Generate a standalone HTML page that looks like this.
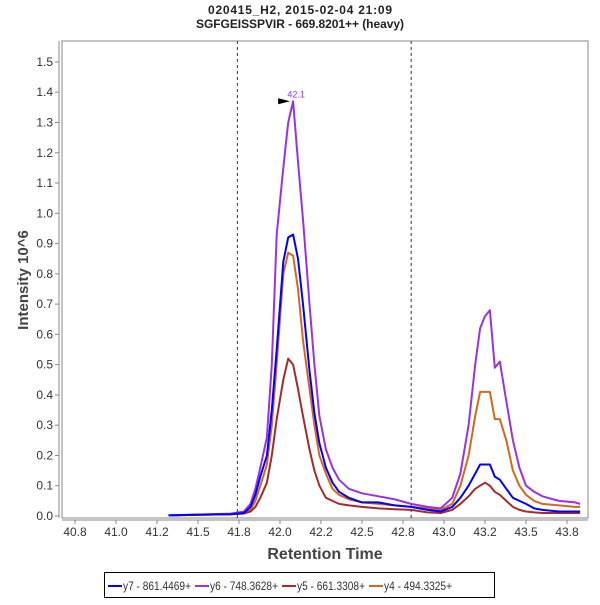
<!DOCTYPE html>
<html><head><meta charset="utf-8"><style>
body{margin:0;background:#fff;font-family:"Liberation Sans",sans-serif}
svg text{font-family:"Liberation Sans",sans-serif}
</style></head><body>
<svg id="c" width="600" height="600" xmlns="http://www.w3.org/2000/svg">
<rect width="600" height="600" fill="#fff"/>
<text x="300" y="14" text-anchor="middle" font-size="12" font-weight="bold" fill="#222" textLength="184">020415_H2, 2015-02-04 21:09</text>
<text x="300" y="28" text-anchor="middle" font-size="12" font-weight="bold" fill="#222" textLength="208">SGFGEISSPVIR - 669.8201++ (heavy)</text>
<rect x="62" y="41" width="526" height="477" fill="none" stroke="#888" stroke-width="1"/>
<line x1="59" y1="41" x2="59" y2="518" stroke="#888"/>
<line x1="62" y1="520" x2="588" y2="520" stroke="#888"/>
<g id="yt"></g><g id="xt"></g><g id="series"></g>
<text transform="translate(28,280) rotate(-90)" text-anchor="middle" font-size="15" font-weight="bold" fill="#444">Intensity 10^6</text>
<text x="325" y="559" text-anchor="middle" font-size="16" font-weight="bold" fill="#444">Retention Time</text>
<g>
<rect x="104.5" y="572.5" width="390" height="25" fill="#fff" stroke="#000"/>
<line x1="108" y1="586" x2="122" y2="586" stroke="#0000ff" stroke-width="2"/>
<text x="123" y="590" font-size="12" fill="#333" textLength="68" lengthAdjust="spacingAndGlyphs">y7 - 861.4469+</text>
<line x1="195" y1="586" x2="209" y2="586" stroke="#9932e6" stroke-width="2"/>
<text x="210" y="590" font-size="12" fill="#333" textLength="68" lengthAdjust="spacingAndGlyphs">y6 - 748.3628+</text>
<line x1="282" y1="586" x2="296" y2="586" stroke="#a52a2a" stroke-width="2"/>
<text x="297" y="590" font-size="12" fill="#333" textLength="68" lengthAdjust="spacingAndGlyphs">y5 - 661.3308+</text>
<line x1="369" y1="586" x2="383" y2="586" stroke="#d2691e" stroke-width="2"/>
<text x="384" y="590" font-size="12" fill="#333" textLength="68" lengthAdjust="spacingAndGlyphs">y4 - 494.3325+</text>
</g>
</svg>
<script>
const times=[41.32,41.5,41.7,41.78,41.82,41.85,41.88,41.92,41.95,41.98,42.02,42.05,42.08,42.11,42.14,42.18,42.21,42.24,42.28,42.32,42.36,42.42,42.5,42.6,42.7,42.8,42.9,42.98,43.05,43.1,43.15,43.19,43.22,43.25,43.28,43.31,43.34,43.38,43.42,43.46,43.5,43.55,43.6,43.7,43.8,43.83];
const y7=[0.002,0.004,0.006,0.01,0.03,0.07,0.13,0.2,0.35,0.55,0.84,0.92,0.93,0.85,0.7,0.48,0.34,0.24,0.16,0.11,0.08,0.06,0.045,0.045,0.035,0.03,0.02,0.015,0.03,0.06,0.1,0.14,0.17,0.17,0.17,0.13,0.12,0.09,0.06,0.05,0.04,0.025,0.02,0.015,0.015,0.015];
const y6=[0.002,0.005,0.008,0.015,0.04,0.09,0.16,0.26,0.5,0.93,1.15,1.30,1.37,1.17,0.98,0.7,0.5,0.33,0.22,0.16,0.12,0.09,0.075,0.065,0.055,0.04,0.03,0.025,0.06,0.14,0.3,0.5,0.62,0.66,0.68,0.49,0.51,0.38,0.25,0.16,0.1,0.08,0.065,0.05,0.045,0.04];
const y5=[0.002,0.004,0.006,0.008,0.015,0.03,0.06,0.11,0.2,0.32,0.45,0.52,0.5,0.42,0.33,0.22,0.15,0.1,0.06,0.05,0.04,0.035,0.03,0.025,0.022,0.02,0.012,0.01,0.02,0.04,0.065,0.09,0.1,0.11,0.1,0.08,0.07,0.05,0.03,0.02,0.015,0.012,0.01,0.01,0.01,0.01];
const y4=[0.002,0.004,0.006,0.01,0.02,0.05,0.1,0.17,0.3,0.5,0.8,0.87,0.86,0.75,0.58,0.42,0.3,0.2,0.14,0.09,0.07,0.055,0.045,0.04,0.035,0.03,0.025,0.02,0.04,0.1,0.2,0.33,0.41,0.41,0.41,0.32,0.32,0.25,0.15,0.1,0.07,0.05,0.04,0.035,0.03,0.03];
const xTicks=[40.75,41,41.25,41.5,41.75,42,42.25,42.5,42.75,43,43.25,43.5,43.75];
const xTickLabels=["40.8","41.0","41.2","41.5","41.8","42.0","42.2","42.5","42.8","43.0","43.2","43.5","43.8"];
const yTicks=[0,0.1,0.2,0.3,0.4,0.5,0.6,0.7,0.8,0.9,1.0,1.1,1.2,1.3,1.4,1.5];
const boundaries=[41.74,42.8];
const peakTime=42.08, peakValue=1.37, peakLabel="42.1";
const NS="http://www.w3.org/2000/svg";
const X=t=>116+(t-41)*164;
const Y=v=>516-v*302.7;
function mk(tag,attrs,parent){const e=document.createElementNS(NS,tag);for(const k in attrs)e.setAttribute(k,attrs[k]);parent.appendChild(e);return e;}
const yt=document.getElementById('yt'),xt=document.getElementById('xt'),sg=document.getElementById('series');
yTicks.forEach(v=>{
 const l=mk('line',{x1:55,x2:59,y1:Y(v),y2:Y(v),stroke:'#888'},yt);
 
 
 const t=mk('text',{x:53,y:Y(v)+4,'text-anchor':'end','font-size':12,fill:'#333'},yt);
 t.textContent=v.toFixed(1);
 
 
});
xTicks.forEach((v,i)=>{
 const l=mk('line',{x1:X(v),x2:X(v),y1:520,y2:524,stroke:'#888'},xt);
 
 
 const t=mk('text',{x:X(v),y:536,'text-anchor':'middle','font-size':12,fill:'#333'},xt);
 t.textContent=xTickLabels[i];
 
 
});
boundaries.forEach(b=>{
 const l=mk('line',{x1:X(b),x2:X(b),y1:41,y2:518,stroke:'#333','stroke-dasharray':'3,3'},sg);
 
 
});
const series=[['y4',y4,'#d2691e'],['y5',y5,'#a52a2a'],['y6',y6,'#9932e6'],['y7',y7,'#0000ff']];
series.forEach(([n,arr,c])=>{
 const d=arr.map((v,i)=>(i?'L':'M')+X(times[i]).toFixed(1)+','+Y(v).toFixed(1)).join('');
 const p=mk('path',{d:d,fill:'none',stroke:c,'stroke-width':2,'stroke-linejoin':'round'},sg);
 
 
});
const px=X(peakTime),py=Y(peakValue);
const a=mk('polygon',{points:(px-15)+','+(py-3)+' '+(px-3)+','+py+' '+(px-15)+','+(py+3),fill:'#000'},sg);


const pl=mk('text',{x:px+3,y:py-4,'font-size':9,fill:'#9932e6','text-anchor':'middle'},sg);
pl.textContent=peakLabel;


</script>
</body></html>
